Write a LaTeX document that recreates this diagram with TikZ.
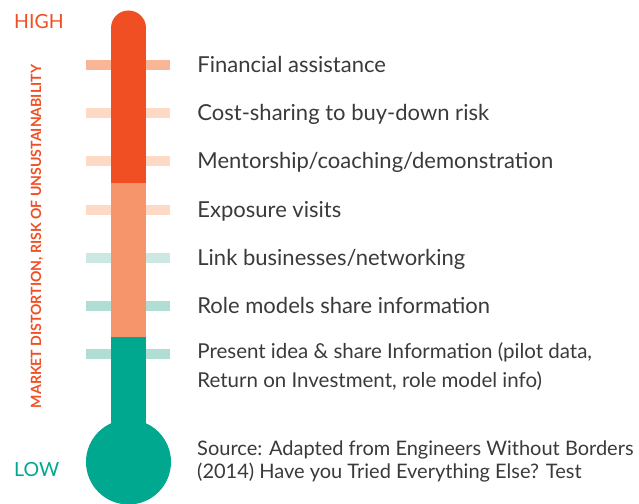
\documentclass[tikz,border=0pt]{standalone}
\usepackage{fontspec}
\setmainfont{Lato}
\usetikzlibrary{positioning}
\definecolor{hotred}{HTML}{F04E23}
\definecolor{warmsalmon}{HTML}{F6956B}
\definecolor{coolteal}{HTML}{00A88F}
\definecolor{tickpeach}{HTML}{F8B696}
\definecolor{tickpale}{HTML}{FDD9C6}
\definecolor{tickmint}{HTML}{CDE8E2}
\definecolor{tickaqua}{HTML}{B0DED5}
\definecolor{bodytext}{HTML}{3A3A3A}

\begin{document}
\begin{tikzpicture}[x=1pt, y=-1pt,
    tick/.style={rectangle, minimum width=84pt, minimum height=10pt, inner sep=0pt},
    item/.style={text=bodytext, inner sep=0pt, align=left, anchor=base west,
      font=\fontsize{22}{29}\selectfont}]
  \useasboundingbox (0,0) rectangle (639,503);

  % Scale ticks (behind the tube)
  \node (t1) [tick, fill=tickpeach] at (128,65) {};
  \node (t2) [tick, fill=tickpale] at (128,113) {};
  \node (t3) [tick, fill=tickpale] at (128,161) {};
  \node (t4) [tick, fill=tickpale] at (128,210) {};
  \node (t5) [tick, fill=tickmint] at (128,258) {};
  \node (t6) [tick, fill=tickaqua] at (128,306) {};
  \node (t7) [tick, fill=tickaqua] at (128,354) {};

  % Tube: hot top, warm middle, cool bottom with the bulb
  \fill[hotred] (128.5,28) circle (17.5);
  \fill[hotred] (111,28) rectangle (146,183);
  \fill[warmsalmon] (111,183) rectangle (146,337);
  \fill[coolteal] (111,337) rectangle (146,440);
  \node (bulb) [circle, fill=coolteal, minimum size=85pt, inner sep=0pt] at (128.5,462) {};

  % Scale ends
  \node (high) [text=hotred, inner sep=0pt, anchor=base west,
    font=\fontsize{19.5}{20}\selectfont] at (14,29) {HIGH};
  \node (low) [text=coolteal, inner sep=0pt, anchor=base west,
    font=\fontsize{19.5}{20}\selectfont] at (14,476) {LOW};
  \node (axis) [text=hotred, inner sep=0pt, rotate=90,
    font=\fontsize{14.1}{14}\selectfont\bfseries] at (37,236.5)
    {MARKET DISTORTION, RISK OF UNSUSTAINABILITY};

  % Interventions, one per tick
  \node (l1) [item, right=27pt of t1, anchor=base west, yshift=-7.5pt] {Financial assistance};
  \node (l2) [item, right=27pt of t2, anchor=base west, yshift=-7.5pt] {Cost-sharing to buy-down risk};
  \node (l3) [item, right=27pt of t3, anchor=base west, yshift=-7.5pt] {Mentorship/coaching/demonstration};
  \node (l4) [item, right=27pt of t4, anchor=base west, yshift=-7.5pt] {Exposure visits};
  \node (l5) [item, right=27pt of t5, anchor=base west, yshift=-7.5pt] {Link businesses/networking};
  \node (l6) [item, right=27pt of t6, anchor=base west, yshift=-7.5pt] {Role models share information};
  % two lines: the base anchor sits on the last one
  \node (l7) [item, right=27pt of t7, anchor=base west, yshift=-33.5pt,
    font=\fontsize{20.5}{29}\selectfont]
    {Present idea \& share Information (pilot data,\\Return on Investment, role model info)};

  % Source note
  \node (src) [item, font=\fontsize{20}{23.3}\selectfont] at (197,478.3)
    {Source: Adapted from Engineers Without Borders\\(2014) Have you Tried Everything Else? Test};
\end{tikzpicture}
\end{document}
